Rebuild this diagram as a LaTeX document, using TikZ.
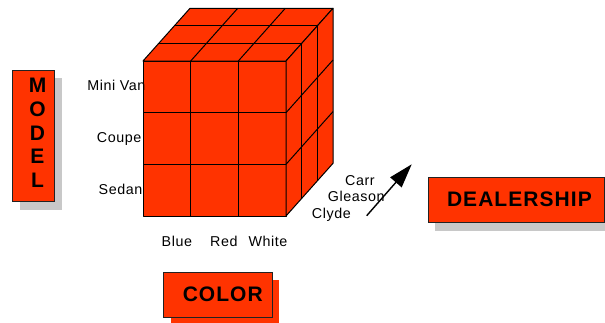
\documentclass[tikz,border=0pt]{standalone}
\usepackage{fontspec}
\setmainfont{Liberation Sans}
\newfontfamily\lblfont[LetterSpace=4]{Liberation Sans}
\newfontfamily\boxfont[LetterSpace=5]{Liberation Sans}
\usetikzlibrary{arrows.meta}
\definecolor{cubered}{HTML}{FF3300}
\definecolor{shadowgray}{HTML}{C8C8C8}
\definecolor{edgegray}{HTML}{222222}
\begin{document}
\begin{tikzpicture}[x=1pt,y=-1pt,
  face/.style={fill=cubered,draw=black,line width=1pt,line join=round},
  grid/.style={draw=black,line width=1pt},
  lbl/.style={font=\lblfont\fontsize{14.3}{16}\selectfont,inner sep=0pt},
  titlebox/.style={draw=edgegray,fill=cubered,line width=0.8pt,inner sep=0pt,anchor=north west},
  titletext/.style={font=\boxfont\bfseries\fontsize{21}{23.6}\selectfont,inner sep=0pt},
  shadowg/.style={fill=shadowgray},
  shadowr/.style={fill=cubered}]
\useasboundingbox (0,0) rectangle (605,322);

% ---- cube ----
\def\dx{47}\def\dy{-52.7}
\path[face] (143,61) rectangle (286,216);
\path[face] (143,61) -- (190,8.3) -- (333,8.3) -- (286,61) -- cycle;
\path[face] (286,61) -- (333,8.3) -- (333,163.3) -- (286,216) -- cycle;
% front grid
\foreach \x in {190.7,238.3} \draw[grid] (\x,61) -- (\x,216);
\foreach \y in {112.7,164.3} \draw[grid] (143,\y) -- (286,\y);
% top grid
\foreach \x in {190.7,238.3} \draw[grid] (\x,61) -- ++(\dx,\dy);
\foreach \k in {1,2} \draw[grid] (143+\k*\dx/3,61+\k*\dy/3) -- ++(143,0);
% right grid
\foreach \y in {112.7,164.3} \draw[grid] (286,\y) -- ++(\dx,\dy);
\foreach \k in {1,2} \draw[grid] (286+\k*\dx/3,61+\k*\dy/3) -- ++(0,155);

% ---- axis labels ----
\node[lbl,anchor=base east] (minivan) at (145.5,90.7) {Mini Van};
\node[lbl,anchor=base east] (coupe) at (141.5,142.7) {Coupe};
\node[lbl,anchor=base east] (sedan) at (142.5,194) {Sedan};
\node[lbl,anchor=base west] (blue) at (161.5,246) {Blue};
\node[lbl,anchor=base west] (red) at (210,246) {Red};
\node[lbl,anchor=base west] (white) at (248.3,246) {White};
\node[lbl,anchor=base west] (carr) at (345,185.7) {Carr};
\node[lbl,anchor=base west] (gleason) at (327.7,201.7) {Gleason};
\node[lbl,anchor=base west] (clyde) at (311.7,218.3) {Clyde};

% ---- arrow ----
\coordinate (atail) at (366.7,215.7);
\coordinate (ahead) at (411.7,164.3);
\draw[line width=1.4pt,-{Triangle[length=24pt,width=15pt]}] (atail) -- (ahead);

% ---- MODEL ----
\fill[shadowg] (20.3,78.4) rectangle (62,209.7);
\node[titlebox,minimum width=41.7pt,minimum height=131.3pt] (modelbox) at (12.3,70) {};
\node[titletext,align=center,anchor=north] (modeltext) at (37.5,78.3) {M\\O\\D\\E\\L};

% ---- DEALERSHIP ----
\fill[shadowg] (435.2,186.3) rectangle (611,230.7);
\node[titlebox,minimum width=175.8pt,minimum height=44.4pt] (dealerbox) at (427.7,177.3) {};
\node[titletext,anchor=base] (dealertext) at (519.4,206.7) {DEALERSHIP};

% ---- COLOR ----
\fill[shadowr] (171,280.3) rectangle (279.3,325);
\node[titlebox,minimum width=108.4pt,minimum height=45pt] (colorbox) at (163.3,272.3) {};
\node[titletext,anchor=base] (colortext) at (222.8,301.7) {COLOR};
\end{tikzpicture}
\end{document}
